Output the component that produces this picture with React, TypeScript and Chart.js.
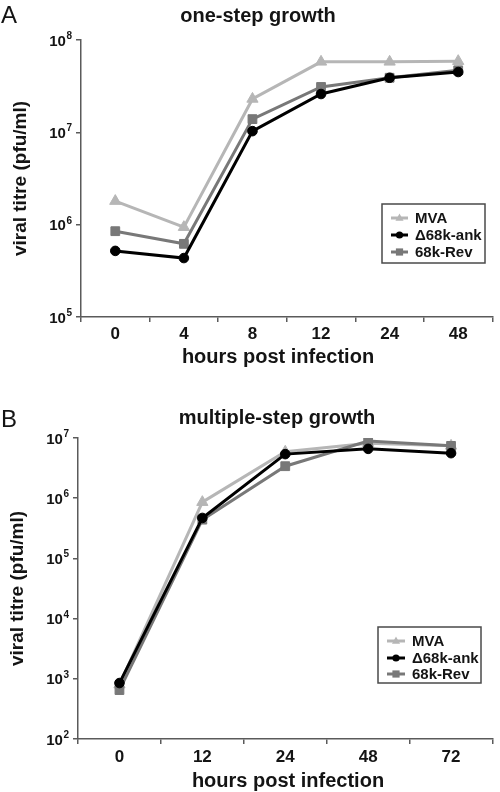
import React, { useEffect, useRef } from 'react';
import { Chart, registerables } from 'chart.js';

Chart.register(...registerables);

const FONT = "'Liberation Sans', Arial, Helvetica, sans-serif";
Chart.defaults.font.family = FONT;

// ---------- DATA ----------
const seriesNames = ['MVA', 'Δ68k-ank', '68k-Rev'];

// Panel A: one-step growth
const hoursA = ['0', '4', '8', '12', '24', '48'];
const mvaA = [1.8e6, 9.4e5, 2.3e7, 5.8e7, 5.8e7, 5.9e7];
const ankA = [5.2e5, 4.35e5, 1.03e7, 2.6e7, 3.9e7, 4.5e7];
const revA = [8.5e5, 6.2e5, 1.39e7, 3.1e7, 3.9e7, 4.7e7];
const yTicksA = [1e5, 1e6, 1e7, 1e8];

// Panel B: multiple-step growth
const hoursB = ['0', '12', '24', '48', '72'];
const mvaB = [8e2, 8.6e5, 5.9e6, 8.2e6, 7.4e6];
const ankB = [8.5e2, 4.7e5, 5.4e6, 6.6e6, 5.6e6];
const revB = [6.5e2, 4.4e5, 3.4e6, 8.9e6, 7.4e6];
const yTicksB = [1e2, 1e3, 1e4, 1e5, 1e6, 1e7];

const titleA = 'one-step growth';
const titleB = 'multiple-step growth';
const xTitle = 'hours post infection';
const yTitle = 'viral titre (pfu/ml)';

// ---------- STYLE ----------
const colors = ['#b6b6b6', '#000000', '#787878'];
const pointStyles = ['triangle', 'circle', 'rect'];
const pointRadii = [6.5, 4.8, 6.2];
const drawOrder = [2, 0, 1];
const AXIS = '#5a5a5a';
const TEXT = '#141414';

type LegendCfg = { x: number; y: number; w: number; h: number; rows: number[]; l0: number; l1: number; tx: number };
type PanelCfg = {
  height: number;
  top: number;
  labels: string[];
  series: number[][];
  yTicks: number[];
  yW: number;
  xH: number;
  padTop: number;
  yTitlePad: number;
  tickPad: number;
  letter: string;
  letterBase: number;
  title: string;
  titleX: number;
  titleBase: number;
  xTitleX: number;
  xTitleBase: number;
  legend: LegendCfg;
};

const panelA: PanelCfg = {
  height: 390, top: 0, labels: hoursA, series: [mvaA, ankA, revA], yTicks: yTicksA,
  yW: 81, xH: 73, padTop: 40, yTitlePad: 9, tickPad: 2,
  letter: 'A', letterBase: 23, title: titleA, titleX: 258, titleBase: 22,
  xTitleX: 278, xTitleBase: 363,
  legend: { x: 382, y: 204, w: 103, h: 59, rows: [218, 235, 252], l0: 391, l1: 408, tx: 415 },
};

const panelB: PanelCfg = {
  height: 402, top: 390, labels: hoursB, series: [mvaB, ankB, revB], yTicks: yTicksB,
  yW: 78, xH: 53, padTop: 48, yTitlePad: 6, tickPad: 3,
  letter: 'B', letterBase: 37, title: titleB, titleX: 277, titleBase: 34,
  xTitleX: 288, xTitleBase: 397,
  legend: { x: 378, y: 237, w: 103, h: 56, rows: [251, 268, 284], l0: 387, l1: 405, tx: 412 },
};

function drawMarker(ctx: CanvasRenderingContext2D, style: string, x: number, y: number, r: number) {
  ctx.beginPath();
  if (style === 'triangle') {
    ctx.moveTo(x, y - r);
    ctx.lineTo(x + r * 0.9, y + r * 0.6);
    ctx.lineTo(x - r * 0.9, y + r * 0.6);
    ctx.closePath();
  } else if (style === 'circle') {
    ctx.arc(x, y, r, 0, Math.PI * 2);
  } else {
    ctx.rect(x - r, y - r, 2 * r, 2 * r);
  }
  ctx.fill();
}

function decorPlugin(cfg: PanelCfg) {
  return {
    id: 'decor',
    afterDraw(chart: any) {
      const ctx: CanvasRenderingContext2D = chart.ctx;
      const ys = chart.scales.y;
      ctx.save();
      ctx.fillStyle = TEXT;
      // y tick labels: 10 with superscript exponent
      ctx.textAlign = 'right';
      ctx.textBaseline = 'alphabetic';
      for (const t of ys.ticks) {
        const py = ys.getPixelForValue(t.value);
        const exp = String(Math.round(Math.log10(t.value)));
        const xr = ys.right - 9;
        ctx.font = `bold 10px ${FONT}`;
        const ew = ctx.measureText(exp).width;
        ctx.fillText(exp, xr, py - 1);
        ctx.font = `bold 15px ${FONT}`;
        ctx.fillText('10', xr - ew - 0.5, py + 5.5);
      }
      // panel letter
      ctx.textAlign = 'left';
      ctx.font = `24px ${FONT}`;
      ctx.fillText(cfg.letter, 1, cfg.letterBase);
      // title
      ctx.textAlign = 'center';
      ctx.font = `bold 20px ${FONT}`;
      ctx.fillText(cfg.title, cfg.titleX, cfg.titleBase);
      // x title
      ctx.font = `bold 20px ${FONT}`;
      ctx.fillText(xTitle, cfg.xTitleX, cfg.xTitleBase);
      // legend
      const L = cfg.legend;
      ctx.fillStyle = '#ffffff';
      ctx.fillRect(L.x, L.y, L.w, L.h);
      ctx.strokeStyle = '#4a4a4a';
      ctx.lineWidth = 1.5;
      ctx.strokeRect(L.x, L.y, L.w, L.h);
      chart.data.datasets.forEach((ds: any, i: number) => {
        const ry = L.rows[i];
        ctx.strokeStyle = colors[i];
        ctx.fillStyle = colors[i];
        ctx.lineWidth = 3;
        ctx.beginPath();
        ctx.moveTo(L.l0, ry);
        ctx.lineTo(L.l1, ry);
        ctx.stroke();
        drawMarker(ctx, pointStyles[i], (L.l0 + L.l1) / 2, ry, i === 0 ? 4.5 : 3.6);
        ctx.fillStyle = TEXT;
        ctx.textAlign = 'left';
        ctx.textBaseline = 'middle';
        ctx.font = `bold 15px ${FONT}`;
        ctx.fillText(ds.label, L.tx, ry + 1);
      });
      ctx.restore();
    },
  };
}

function Panel({ cfg }: { cfg: PanelCfg }) {
  const ref = useRef<HTMLCanvasElement>(null);
  useEffect(() => {
    const chart = new Chart(ref.current as HTMLCanvasElement, {
      type: 'line',
      data: {
        labels: cfg.labels,
        datasets: cfg.series.map((data, i) => ({
          label: seriesNames[i],
          data,
          borderColor: colors[i],
          backgroundColor: colors[i],
          pointBorderColor: colors[i],
          pointBackgroundColor: colors[i],
          pointStyle: pointStyles[i] as any,
          pointRadius: pointRadii[i],
          pointBorderWidth: 1,
          borderWidth: 3,
          tension: 0,
          fill: false,
          order: drawOrder[i],
        })),
      },
      options: {
        responsive: false,
        animation: false,
        events: [],
        layout: { padding: { top: cfg.padTop, right: 2, left: 0, bottom: 0 } },
        plugins: { legend: { display: false }, tooltip: { enabled: false }, title: { display: false } },
        scales: {
          x: {
            type: 'category',
            offset: true,
            grid: { display: true, drawOnChartArea: false, drawTicks: true, tickLength: 5, offset: true, color: AXIS, lineWidth: 1.5 },
            border: { display: true, color: AXIS, width: 1.5 },
            ticks: { color: TEXT, font: { size: 17, weight: 'bold' }, padding: cfg.tickPad, maxRotation: 0, autoSkip: false },
            afterFit: (s: any) => { s.height = cfg.xH; },
          },
          y: {
            type: 'logarithmic',
            min: cfg.yTicks[0],
            max: cfg.yTicks[cfg.yTicks.length - 1],
            grid: { display: true, drawOnChartArea: false, drawTicks: true, tickLength: 5, color: AXIS, lineWidth: 1.5 },
            border: { display: true, color: AXIS, width: 1.5 },
            ticks: { display: false },
            afterBuildTicks: (s: any) => { s.ticks = cfg.yTicks.map((v) => ({ value: v })); },
            title: { display: true, text: yTitle, color: TEXT, font: { size: 19, weight: 'bold' }, padding: { top: cfg.yTitlePad, bottom: 0 } },
            afterFit: (s: any) => { s.width = cfg.yW; },
          },
        },
      } as any,
      plugins: [decorPlugin(cfg)],
    });
    return () => chart.destroy();
  }, [cfg]);
  return (
    <canvas
      ref={ref}
      width={500}
      height={cfg.height}
      style={{ position: 'absolute', left: 0, top: cfg.top, width: 500, height: cfg.height }}
    />
  );
}

export default function App() {
  return (
    <div style={{ position: 'absolute', left: 0, top: 0, width: 500, height: 792, background: '#fff' }}>
      <Panel cfg={panelA} />
      <Panel cfg={panelB} />
    </div>
  );
}
